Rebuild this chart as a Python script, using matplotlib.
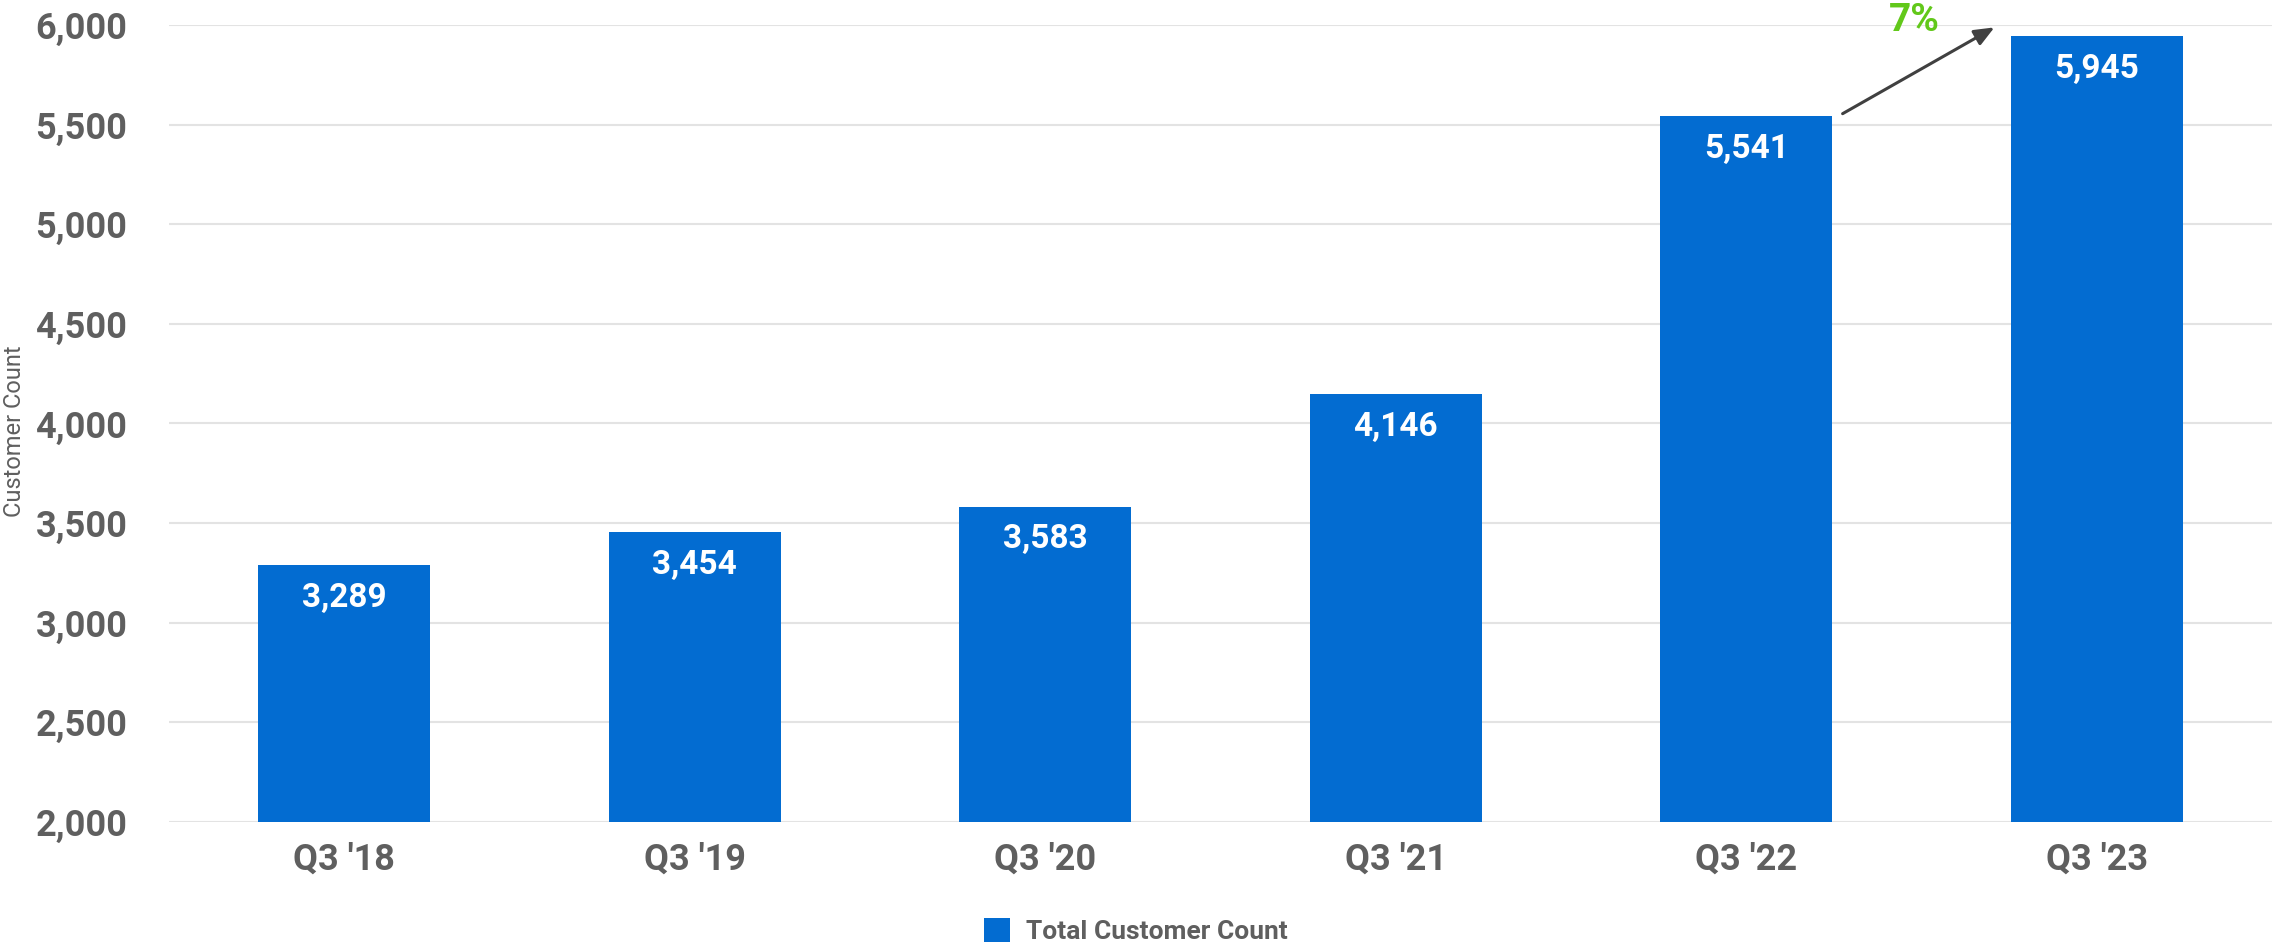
import matplotlib.pyplot as plt
from matplotlib.ticker import FuncFormatter

quarters = ["Q3 '18", "Q3 '19", "Q3 '20", "Q3 '21", "Q3 '22", "Q3 '23"]
customers = [3289, 3454, 3583, 4146, 5541, 5945]
growth_label = '7%'

BLUE = '#036cd1'
GRAY = '#5f5f5f'

plt.rcParams['font.family'] = ['Roboto', 'DejaVu Sans']

fig = plt.figure(figsize=(22.72, 9.47), dpi=100)
ax = fig.add_axes([0.0744, 0.132, 0.9256, 0.8416])

x = range(len(quarters))
bars = ax.bar(x, customers, width=0.49, color=BLUE, label='Total Customer Count', zorder=2)

for xi, v in zip(x, customers):
    ax.text(xi, v - 165, '{:,}'.format(v), ha='center', va='center',
            color='white', fontsize=24, fontweight='bold', zorder=3)

ax.set_xlim(-0.5, 5.5)
ax.set_ylim(2000, 6000)
ax.set_yticks(range(2000, 6001, 500))
ax.yaxis.set_major_formatter(FuncFormatter(lambda v, p: '{:,}'.format(int(v))))
ax.set_xticks(list(x))
ax.set_xticklabels(quarters)
ax.tick_params(axis='both', length=0, labelcolor=GRAY, labelsize=26)
ax.tick_params(axis='x', pad=14)
ax.tick_params(axis='y', pad=30)
for lbl in ax.get_xticklabels() + ax.get_yticklabels():
    lbl.set_fontweight('bold')

ax.grid(axis='y', color='#e3e3e3', linewidth=1.5, zorder=0)
ax.set_axisbelow(True)
for s in ax.spines.values():
    s.set_visible(False)

ax.set_ylabel('Customer Count', fontsize=17, color=GRAY, labelpad=8)
ax.yaxis.set_label_coords(-0.068, 0.49)

# growth arrow between the last two bars
ax.annotate('', xy=(4.715, 5995), xytext=(4.268, 5548),
            arrowprops=dict(arrowstyle='-|>,head_length=1.2,head_width=0.5', color='#404040', lw=2.2),
            annotation_clip=False)
ax.text(4.48, 6025, growth_label, ha='center', va='center', color='#62c81a',
        fontsize=28, fontweight='bold', clip_on=False)

fig.legend(handles=[bars], loc='center', bbox_to_anchor=(0.5, 0.017), frameon=False,
           prop={'size': 19, 'weight': 'bold'}, labelcolor=GRAY,
           handlelength=1.0, handleheight=1.0, handletextpad=0.6)

fig.savefig('out.png', dpi=100)
